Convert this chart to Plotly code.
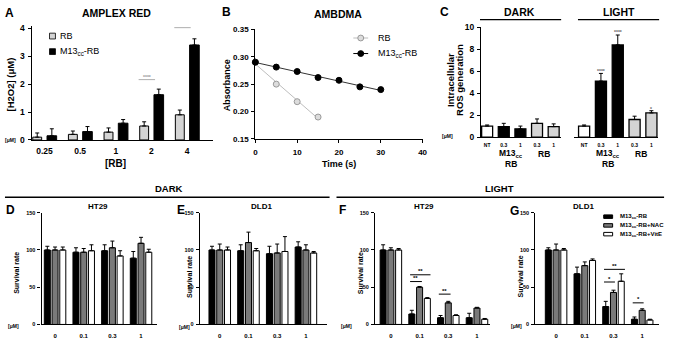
import plotly.graph_objects as go
import numpy as np

W, H = 676, 344
FONT = "Liberation Sans"


def X(p):
    return p / W


def Y(p):
    return 1 - p / H


# ---------------- data ----------------
# A  AMPLEX RED
a_cats = ["0.25", "0.5", "1", "2", "4"]
a_rb = [0.1, 0.2, 0.28, 0.5, 0.9]
a_rb_err = [0.15, 0.12, 0.15, 0.15, 0.17]
a_m13 = [0.15, 0.3, 0.6, 1.62, 3.4]
a_m13_err = [0.25, 0.18, 0.13, 0.2, 0.22]

# B  AMBDMA
b_rb_t = [0, 5, 10, 15]
b_rb_abs = [0.29, 0.25, 0.218, 0.19]
b_m13_t = [0, 5, 10, 15, 20, 25, 30]
b_m13_abs = [0.29, 0.281, 0.273, 0.262, 0.257, 0.245, 0.240]

# C  intracellular ROS
c_labels = ["NT", "0.3", "1", "0.3", "1"]
c_groups = ["NT", "M13", "M13", "RB", "RB"]
c_dark = [1.0, 0.95, 0.75, 1.25, 0.95]
c_dark_err = [0.1, 0.3, 0.25, 0.4, 0.25]
c_light = [1.0, 5.1, 8.4, 1.6, 2.2]
c_light_err = [0.1, 0.7, 0.9, 0.3, 0.2]

# D-G survival
conc = ["0", "0.1", "0.3", "1"]
d_m13 = [100, 97, 99, 89]
d_m13_err = [5, 6, 8, 9]
d_nac = [100, 97, 103, 109]
d_nac_err = [4, 5, 9, 8]
d_vite = [100, 99, 92, 97]
d_vite_err = [4, 8, 7, 4]

e_m13 = [100, 99, 95, 104]
e_m13_err = [5, 8, 10, 7]
e_nac = [100, 110, 96, 100]
e_nac_err = [8, 14, 12, 7]
e_vite = [100, 99, 98, 96]
e_vite_err = [4, 3, 20, 2]

f_m13 = [100, 14, 9, 9]
f_m13_err = [7, 5, 3, 6]
f_nac = [100, 50, 29, 22]
f_nac_err = [3, 1, 2, 1]
f_vite = [100, 35, 12, 7]
f_vite_err = [2, 1, 1, 1]

g_m13 = [100, 68, 24, 7]
g_m13_err = [3, 9, 7, 3]
g_nac = [100, 79, 43, 19]
g_nac_err = [8, 5, 3, 2]
g_vite = [100, 86, 58, 6]
g_vite_err = [2, 2, 10, 1]

series_names = ["M13<sub>cc</sub>-RB", "M13<sub>cc</sub>-RB+NAC", "M13<sub>cc</sub>-RB+VitE"]
series_colors = ["black", "#7a7a7a", "white"]

LGRAY = "#d4d4d4"
fig = go.Figure()


def add_bar(x, y, err, xa, ya, color, offset, width, lw=1):
    fig.add_trace(go.Bar(
        x=x, y=y, xaxis=xa, yaxis=ya, offset=offset, width=width,
        marker=dict(color=color, line=dict(color="black", width=lw)),
        error_y=dict(type="data", array=err, arrayminus=[0] * len(err), symmetric=False,
                     color="black", thickness=1, width=2),
        showlegend=False, hoverinfo="skip"))


# A
ia = list(range(len(a_cats)))
add_bar(ia, a_rb, a_rb_err, "x", "y", LGRAY, -0.33, 0.25)
add_bar(ia, a_m13, a_m13_err, "x", "y", "black", 0.07, 0.27)

# B
for t, v, col, fill, lcol in [(b_rb_t, b_rb_abs, "#9a9a9a", "#dcdcdc", "#bdbdbd"),
                              (b_m13_t, b_m13_abs, "black", "black", "#333333")]:
    k, b0 = np.polyfit(t, v, 1)
    xs = [min(t), max(t)]
    fig.add_trace(go.Scatter(x=xs, y=[b0 + k * xx for xx in xs], mode="lines",
                             line=dict(color=lcol, width=1), xaxis="x2", yaxis="y2",
                             showlegend=False, hoverinfo="skip"))
    fig.add_trace(go.Scatter(x=t, y=v, mode="markers", cliponaxis=False,
                             marker=dict(size=6, color=fill, line=dict(color=col, width=1)),
                             xaxis="x2", yaxis="y2", showlegend=False, hoverinfo="skip"))

# C
cmap = {"NT": "white", "M13": "black", "RB": LGRAY}
ccols = [cmap[g] for g in c_groups]
ic = list(range(len(c_labels)))
add_bar(ic, c_dark, c_dark_err, "x3", "y3", ccols, -0.33, 0.66, 1.3)
add_bar(ic, c_light, c_light_err, "x4", "y4", ccols, -0.33, 0.66, 1.3)

# D-G
ic4 = list(range(len(conc)))
offs = [-0.375, -0.105, 0.165]
for (xa, ya, vals) in [("x5", "y5", [(d_m13, d_m13_err), (d_nac, d_nac_err), (d_vite, d_vite_err)]),
                       ("x6", "y6", [(e_m13, e_m13_err), (e_nac, e_nac_err), (e_vite, e_vite_err)]),
                       ("x7", "y7", [(f_m13, f_m13_err), (f_nac, f_nac_err), (f_vite, f_vite_err)]),
                       ("x8", "y8", [(g_m13, g_m13_err), (g_nac, g_nac_err), (g_vite, g_vite_err)])]:
    for (v, e), off, col in zip(vals, offs, series_colors):
        add_bar(ic4, v, e, xa, ya, col, off, 0.21, 1)


# ---------------- axes ----------------
def tf(size):
    return dict(family=FONT, size=size, color="black", weight="bold")


def xax(px0, px1, rng, anchor, tickvals=None, ticktext=None, size=8, ticks="", standoff=2, **kw):
    d = dict(domain=[X(px0), X(px1)], range=rng, anchor=anchor, showline=True, linecolor="black",
             linewidth=1.3, ticks=ticks, ticklen=3, tickwidth=1, tickcolor="black", showgrid=False,
             zeroline=False, tickfont=tf(size), fixedrange=True, ticklabelstandoff=standoff)
    if tickvals is not None:
        d.update(tickmode="array", tickvals=tickvals, ticktext=ticktext)
    d.update(kw)
    return d


def yax(pb, pt, rng, anchor, dtick, size=8, show=True, **kw):
    d = dict(domain=[Y(pb), Y(pt)], range=rng, anchor=anchor, showline=show, linecolor="black",
             linewidth=1.3, ticks="outside" if show else "", ticklen=3, tickwidth=1, tickcolor="black",
             showgrid=False, zeroline=False, tickfont=tf(size), dtick=dtick, tick0=0,
             showticklabels=show, fixedrange=True, ticklabelstandoff=1)
    d.update(kw)
    return d


layout = dict(
    width=W, height=H, margin=dict(l=0, r=0, t=0, b=0), paper_bgcolor="white", plot_bgcolor="white",
    barmode="overlay", showlegend=False, font=dict(family=FONT, color="black"),
    xaxis=xax(30, 213, [-0.36, 4.72], "y", ia, a_cats, 8.5, standoff=3),
    yaxis=yax(139, 21.6, [0, 4.08], "x", 1, 8.5, tickvals=[0, 1, 2, 3, 4]),
    xaxis2=xax(256, 425, [0, 40], "y2", size=8, ticks="outside", dtick=10),
    yaxis2=yax(138, 25, [0.15, 0.35], "x2", 0.05, 8, tick0=0.15, tickformat=".2f"),
    xaxis3=xax(484, 565, [-0.37, 4.45], "y3", ic, c_labels, 5, standoff=3),
    yaxis3=yax(136, 23, [0, 10], "x3", 2, 8.5),
    xaxis4=xax(578, 663, [-0.6, 4.4], "y4", ic, c_labels, 5, standoff=3),
    yaxis4=yax(136, 23, [0, 10], "x4", 2, 8.5, show=False),
    xaxis5=xax(40, 157, [-0.47, 3.57], "y5", ic4, conc, 6, standoff=5),
    yaxis5=yax(329, 214, [0, 150], "x5", 50, 5.5),
    xaxis6=xax(200, 328, [-0.69, 3.72], "y6", ic4, conc, 6, standoff=5),
    yaxis6=yax(329, 214, [0, 150], "x6", 50, 5.5),
    xaxis7=xax(377, 493, [-0.55, 3.45], "y7", ic4, conc, 6, standoff=5),
    yaxis7=yax(329, 214, [0, 150], "x7", 50, 5.5),
    xaxis8=xax(539, 664, [-0.72, 3.59], "y8", ic4, conc, 6, standoff=5),
    yaxis8=yax(329, 214, [0, 150], "x8", 50, 5.5),
)
fig.update_layout(**layout)

ann = []
shapes = []


def txt(x, y, t, size, bold=True, angle=0, color="black", xanchor="center", xref="paper", yref="paper"):
    if xref == "paper":
        x = X(x)
    if yref == "paper":
        y = Y(y)
    ann.append(dict(x=x, y=y, xref=xref, yref=yref, text=t, showarrow=False, textangle=angle,
                    xanchor=xanchor, yanchor="middle",
                    font=dict(family=FONT, size=size, color=color, weight="bold" if bold else "normal")))


def hline(x0, x1, y, width=1.3, color="black"):
    shapes.append(dict(type="line", xref="paper", yref="paper", x0=X(x0), x1=X(x1), y0=Y(y), y1=Y(y),
                       line=dict(color=color, width=width)))


# panel letters & titles
txt(8, 8, "A", 12)
txt(116, 8, "AMPLEX RED", 10.5)
txt(227, 7, "B", 12)
txt(340, 9, "AMBDMA", 10.5)
txt(447, 7, "C", 12)
txt(523, 7, "DARK", 10.5)
txt(623, 7, "LIGHT", 10.5)
hline(483, 565, 15)
hline(582, 664, 15)

# A labels
txt(9, 82, "[H2O2] (μM)", 9.5, angle=-90)
txt(9, 139, "[μM]", 5)
txt(115, 163, "[RB]", 10)
for i, yv in [(3, 2.16), (4, 4.02)]:
    shapes.append(dict(type="line", xref="x", yref="y", x0=i - 0.36, x1=i + 0.1, y0=yv, y1=yv,
                       line=dict(color="#999999", width=0.8)))
    txt(i - 0.13, yv + 0.1, "****", 5, color="#999999", xref="x", yref="y")
# A legend
for yy, col, lab in [(32, LGRAY, "RB"), (48, "black", "M13<sub>cc</sub>-RB")]:
    shapes.append(dict(type="rect", xref="paper", yref="paper", x0=X(48), x1=X(54), y0=Y(yy + 3), y1=Y(yy - 3),
                       fillcolor=col, line=dict(color="black", width=0.8)))
    txt(57, yy, lab, 9, bold=False, xanchor="left")

# B labels
txt(227, 83, "Absorbance", 9, angle=-90)
txt(341, 164, "Time (s)", 9)
for yy, col, fill, lcol, lab in [(34, "#9a9a9a", "#dcdcdc", "#bdbdbd", "RB"),
                                 (50, "black", "black", "black", "M13<sub>cc</sub>-RB")]:
    hline(355, 370, yy, 1, lcol)
    shapes.append(dict(type="circle", xref="paper", yref="paper", x0=X(359.5), x1=X(365.5), y0=Y(yy + 3),
                       y1=Y(yy - 3), fillcolor=fill, line=dict(color=col, width=1)))
    txt(378, yy, lab, 9, bold=False, xanchor="left")

# C labels
txt(453, 77, "Intracellular", 9.5, angle=-90)
txt(463, 77, "ROS generation", 9.5, angle=-90)
txt(450, 135, "[μM]", 5)
for base in [0, 98]:
    txt(514 + base, 153, "M13<sub>cc</sub>", 8.5)
    txt(514 + base, 164, "RB", 8.5)
    txt(548 + base, 153, "RB", 8.5)
for i, yv, s in [(1, 6.0, "****"), (2, 9.55, "****"), (4, 2.6, "*")]:
    txt(i, yv, s, 5, color="#666666", xref="x4", yref="y4")

# bottom headers
txt(169, 189, "DARK", 9.5)
hline(3, 331, 198)
txt(503, 189, "LIGHT", 9.5)
hline(338, 669, 198)

txt(9, 211, "D", 12)
txt(97, 208, "HT29", 8)
txt(15, 276, "Survival rate", 7, angle=-90)
txt(12, 331, "[μM]", 5)
txt(181, 211, "E", 12)
txt(262, 208, "DLD1", 8)
txt(190, 280, "Survival rate", 7, angle=-90)
txt(184, 332, "[μM]", 5)
txt(344, 211, "F", 12)
txt(426, 208, "HT29", 8)
txt(363, 276, "Survival rate", 7, angle=-90)
txt(348, 331, "[μM]", 5)
txt(518, 212, "G", 12)
txt(588, 208, "DLD1", 8)
txt(524, 280, "Survival rate", 7, angle=-90)
txt(520, 331, "[μM]", 5)

# significance brackets F, G
for xa, ya, i, x0, x1, yv, s in [("x7", "y7", 1, -0.33, 0.08, 57.6, "**"), ("x7", "y7", 1, -0.33, 0.38, 66.7, "**"),
                                 ("x7", "y7", 2, -0.33, 0.08, 40.7, "**"),
                                 ("x8", "y8", 2, -0.33, 0.05, 57, "*"), ("x8", "y8", 2, -0.33, 0.4, 74, "**"),
                                 ("x8", "y8", 3, -0.33, 0.05, 29, "*")]:
    shapes.append(dict(type="line", xref=xa, yref=ya, x0=i + x0, x1=i + x1, y0=yv, y1=yv,
                       line=dict(color="black", width=1)))
    txt(i + (x0 + x1) / 2, yv + 4.5, s, 6, xref=xa, yref=ya)

# G legend
for yy, col, lab in zip([218, 227, 236], series_colors, series_names):
    shapes.append(dict(type="rect", xref="paper", yref="paper", x0=X(608), x1=X(617), y0=Y(yy + 1.8),
                       y1=Y(yy - 1.8), fillcolor=col, line=dict(color="black", width=1)))
    txt(622, yy, lab, 6, xanchor="left")

fig.update_layout(annotations=ann, shapes=shapes)
fig.write_html("out.html", config={"displayModeBar": False},
               post_script="document.body.style.margin='0';")
